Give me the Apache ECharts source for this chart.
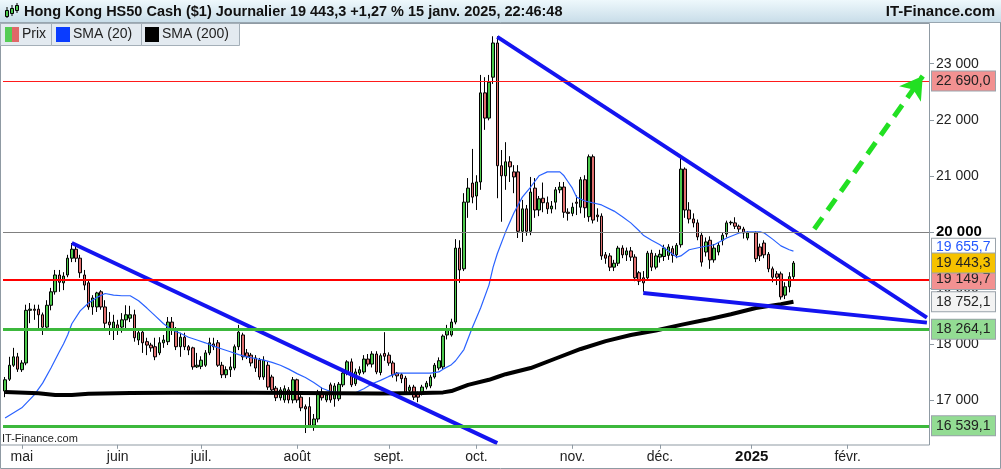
<!DOCTYPE html>
<html>
<head>
<meta charset="utf-8">
<script src="https://cdn.jsdelivr.net/npm/echarts@6/dist/echarts.min.js"></script>
<style>
  html, body { margin: 0; padding: 0; background: #fff; }
  #chart { width: 1001px; height: 469px; }
</style>
</head>
<body>
<div id="chart"></div>
<script>
  // trading days (weekdays) starting 25 avr. 2024, 222 slots on the axis
  var firstDay = [2024, 3, 25];
  var slotCount = 222;
  var monthLabels = ['janv.', 'févr.', 'mars', 'avr.', 'mai', 'juin', 'juil.', 'août', 'sept.', 'oct.', 'nov.', 'déc.'];
  var yTickValues = [17000, 18000, 19000, 20000, 21000, 22000, 23000];

  // [open, close, low, high] per day
  var ohlc = [
    [17160,17360,17050,17410],[17370,17620,17340,17770],[17620,17770,17590,17930],[17770,17550,17500,17840],
    [17540,17660,17500,17710],[17660,18600,17620,18700],[18600,18620,18370,18730],[18620,18600,18430,18700],
    [18620,18520,18280,18700],[18520,18300,18160,18560],[18300,18690,18250,18780],[18690,18930,18600,19000],
    [18930,19230,18880,19320],[19230,19100,18930,19320],[19090,19210,18960,19280],[19230,19530,19190,19590],
    [19530,19690,19460,19800],[19690,19530,19460,19770],[19530,19270,19180,19590],[19230,19050,18960,19320],
    [19090,18660,18610,19140],[18660,18820,18520,18870],[18660,18910,18570,18930],[18930,18660,18610,18960],
    [18660,18370,18280,18780],[18390,18340,18160,18570],[18280,18390,18070,18520],[18340,18250,18160,18430],
    [18300,18430,18200,18550],[18430,18520,18250,18690],[18460,18520,18390,18680],[18520,18110,18040,18610],
    [18070,18200,17980,18250],[18210,18020,17840,18250],[18040,17980,17800,18110],[17980,17930,17860,18020],
    [17950,17770,17710,18110],[17840,18020,17800,18120],[18020,18070,17930,18160],[18040,18390,17980,18480],
    [18390,18250,18160,18480],[18250,17950,17890,18300],[17950,18120,17770,18200],[18120,17950,17890,18200],
    [17950,17890,17800,17980],[17930,17590,17540,17950],[17590,17620,17570,17840],[17600,17710,17550,17780],
    [17620,17840,17590,17890],[17840,18020,17800,18110],[18000,17950,17890,18110],[18020,17620,17590,18070],
    [17620,17450,17390,17680],[17450,17540,17390,17600],[17540,17590,17410,17770],[17570,17950,17530,17990],
    [17950,18210,17890,18340],[18160,17770,17710,18200],[17840,17770,17730,17910],[17800,17660,17600,17840],
    [17750,17570,17500,17800],[17710,17410,17360,17750],[17410,17710,17360,17780],[17620,17230,17180,17680],
    [17410,17180,17110,17450],[17210,17040,16980,17250],[17040,17180,16990,17230],[17000,17200,16950,17260],
    [17180,17000,16940,17230],[17000,17360,16940,17410],[17360,17000,16950,17380],[17050,16860,16800,17090],
    [16880,16840,16410,16920],[16880,16550,16500,17050],[16550,16660,16450,16750],[16660,17140,16600,17180],
    [17140,17040,16990,17230],[17000,17090,16960,17140],[17270,17000,16950,17310],[17020,17250,16880,17300],
    [17020,17280,16980,17320],[17270,17480,17230,17520],[17480,17680,17440,17710],[17680,17270,17230,17740],
    [17290,17500,17250,17560],[17480,17540,17440,17600],[17500,17730,17460,17800],[17730,17640,17600,17820],
    [17640,17820,17580,17870],[17820,17500,17460,17870],[17490,17790,17440,17830],[17830,17780,17700,18210],
    [17800,17660,17610,17850],[17660,17450,17400,17700],[17480,17430,17330,17500],[17450,17380,17300,17480],
    [17390,17140,17090,17430],[17170,17230,17120,17270],[17230,17050,17000,17270],[17120,17050,16960,17150],
    [17140,17230,17080,17270],[17230,17300,17190,17340],[17250,17410,17210,17450],[17410,17620,17380,17660],
    [17570,17700,17530,17760],[17590,18140,17540,18170],[18160,18250,18080,18340],[18160,18390,18130,18450],
    [18390,19710,18350,19870],[19710,19320,19090,19850],[19340,20530,19300,20690],[20530,20780,20250,20960],
    [20870,20620,20510,21480],[20640,20890,20390,21010],[20890,22480,20750,22800],[22480,22030,21820,22760],
    [22030,22670,21990,22800],[22760,23370,22640,23490],[23370,21180,20600,23490],[21180,21000,20180,21460],
    [21000,21250,20750,21600],[21250,21160,20890,21350],[21070,20980,20690,21190],[21070,20010,19890,21190],
    [20010,20410,19820,20570],[20410,20010,19930,20480],[20010,20710,19940,20980],[20780,20390,20250,20960],
    [20390,20590,20280,20640],[20600,20520,20350,20880],[20520,20410,20320,20630],[20410,20460,20330,20550],
    [20530,20750,20400,20800],[20750,20800,20690,20890],[20800,20350,20250,20890],[20350,20330,20200,20420],
    [20330,20440,20280,20520],[20530,20510,20300,20650],[20440,20930,20330,20980],[20930,20430,20250,21010],
    [20270,21340,20180,21380],[21340,20210,20150,21380],[20300,20270,20180,20420],[20280,19570,19500,20330],
    [19590,19530,19430,19640],[19570,19370,19300,19620],[19370,19440,19300,19500],[19440,19710,19390,19750],
    [19710,19590,19530,19760],[19590,19660,19480,19720],[19660,19550,19480,19730],[19550,19180,19120,19600],
    [19270,19120,19050,19300],[19180,19090,18930,19300],[19180,19620,19140,19660],[19620,19370,19300,19680],
    [19370,19570,19330,19620],[19550,19600,19450,19680],[19560,19710,19480,19770],[19580,19730,19500,19780],
    [19700,19580,19450,19750],[19590,19760,19530,19800],[19770,21120,19720,21340],[21120,20390,20250,21150],
    [20390,20230,20150,20530],[20230,20160,20080,20330],[20160,19910,19850,20220],[19940,19460,19380,20000],
    [19640,19820,19560,19900],[19850,19500,19340,19920],[19500,19710,19450,19780],[19640,19760,19580,19810],
    [19850,19940,19760,19980],[19960,20160,19900,20200],[20160,20170,20120,20200],[20160,20100,20050,20260],
    [20100,20050,19990,20130],[20050,19980,19880,20090],[19890,19980,19850,20010],['-','-','-','-'],
    [19980,19520,19460,20010],[19730,19570,19480,19790],[19800,19590,19530,19850],[19600,19340,19280,19640],
    [19340,19190,19100,19380],[19250,19190,19050,19300],[19250,18840,18790,19290],[18870,19020,18800,19100],
    [19020,19200,18920,19280],[19200,19443.3,19150,19480]
  ];

  // moving averages as [day index, value]
  var sma20 = [
    [0,16680],[4,16860],[7,17090],[9,17300],[11,17570],[13,17860],[14,18000],[15,18160],[16,18360],
    [18,18590],[20,18730],[22,18830],[24,18900],[26,18870],[28,18860],[30,18860],[32,18770],[34,18640],
    [36,18500],[38,18360],[40,18250],[42,18190],[44,18120],[46,18070],[48,18020],[50,17960],[52,17910],
    [54,17860],[56,17810],[58,17770],[60,17740],[62,17710],[64,17670],[66,17620],[68,17550],[70,17470],
    [72,17400],[74,17310],[76,17210],[78,17150],[80,17130],[82,17120],[84,17130],[86,17200],[88,17290],
    [90,17350],[92,17420],[94,17480],[96,17480],[98,17480],[100,17480],[102,17480],[104,17500],[105,17550],
    [107,17630],[108,17700],[110,17900],[112,18290],[114,18640],[116,19050],[117,19370],[118,19610],
    [120,20000],[122,20340],[124,20620],[126,20800],[128,21000],[130,21070],[133,21070],[134,21000],
    [135,20890],[136,20780],[137,20620],[139,20550],[143,20480],[146,20370],[148,20270],[150,20160],
    [152,20020],[153,19940],[155,19850],[157,19770],[159,19660],[161,19550],[162,19570],[164,19680],
    [167,19730],[170,19770],[173,19890],[176,19980],[178,20000],[181,20000],[182,19980],[184,19870],
    [186,19750],[188,19680],[189,19655.7]
  ];
  var sma200 = [
    [0,17140],[8,17120],[12,17090],[16,17090],[20,17110],[30,17125],[50,17135],[70,17125],[90,17115],
    [100,17125],[105,17135],[107,17160],[111,17270],[116,17360],[118,17410],[120,17460],[126,17570],
    [132,17740],[138,17910],[144,18050],[150,18160],[156,18240],[162,18340],[168,18430],[174,18530],
    [180,18640],[186,18710],[189,18752.1]
  ];

  // drawn lines, [day index, value] ends
  var trendLines = [
    [[16, 19800], [118, 16230]],
    [[118, 23480], [221, 18470]],
    [[153, 18910], [221, 18380]]
  ];
  var arrowLine = [[194, 20050], [220, 22780]];
  var resistanceLevels = [22690.0, 19149.7];
  var supportLevels = [18264.1, 16539.1];
  var roundLevel = 20000;

  var FONT = '"Liberation Sans", Arial, sans-serif';

  var dates = [];
  var d = new Date(Date.UTC(firstDay[0], firstDay[1], firstDay[2]));
  while (dates.length < slotCount) {
    var wd = d.getUTCDay();
    if (wd !== 0 && wd !== 6) dates.push(d.toISOString().slice(0, 10));
    d.setUTCDate(d.getUTCDate() + 1);
  }
  function isMonthStart(i) {
    return i > 0 && dates[i].slice(5, 7) !== dates[i - 1].slice(5, 7);
  }
  function spaced(n) {
    return String(n).replace(/\B(?=(\d{3})+(?!\d))/g, ' ');
  }
  function fmt(v) {
    var p = v.toFixed(1).split('.');
    return spaced(p[0]) + ',' + p[1];
  }
  function boxLabel(text, bg, fg) {
    return {
      show: true, position: 'end', distance: 3, formatter: text,
      color: fg, fontSize: 14, fontFamily: FONT,
      backgroundColor: bg, borderColor: '#9aa3ab', borderWidth: 1,
      padding: [1, 3, 1, 4], lineHeight: 17, width: 56
    };
  }

  var lastClose = ohlc[ohlc.length - 1][1];
  var lastSma20 = sma20[sma20.length - 1][1];
  var lastSma200 = sma200[sma200.length - 1][1];

  var markData = [];
  // trend lines
  trendLines.forEach(function (t) {
    markData.push([
      { coord: t[0], lineStyle: { color: '#1414f0', width: 4, type: 'solid' } },
      { coord: t[1] }
    ]);
  });
  // horizontal levels
  markData.push({ yAxis: roundLevel, lineStyle: { color: '#808080', width: 1, type: 'solid' }, label: { show: false } });
  markData.push({ yAxis: resistanceLevels[0], lineStyle: { color: '#ff1a1a', width: 1, type: 'solid' },
    label: boxLabel(fmt(resistanceLevels[0]), '#f29191', '#222') });
  markData.push({ yAxis: resistanceLevels[1], lineStyle: { color: '#ff0000', width: 2, type: 'solid' },
    label: boxLabel(fmt(resistanceLevels[1]), '#f29191', '#222') });
  supportLevels.forEach(function (v) {
    markData.push({ yAxis: v, lineStyle: { color: '#3cb83c', width: 3, type: 'solid' },
      label: boxLabel(fmt(v), '#93dc93', '#222') });
  });
  // last values on the right scale; the SMA 20 box is pushed up by a spacer line
  var smaBox = boxLabel('{a|' + fmt(lastSma20) + '}\n{s| }', '#ffffff', '#2458ff');
  smaBox.padding = [0, 3, 0, 4];
  smaBox.rich = {
    a: { color: '#2458ff', fontSize: 14, fontFamily: FONT, lineHeight: 16, width: 56 },
    s: { fontSize: 6, lineHeight: 9 }
  };
  markData.push({ yAxis: lastSma20, lineStyle: { color: 'rgba(0,0,0,0)', width: 1 }, label: smaBox });
  markData.push({ yAxis: lastClose, lineStyle: { color: 'rgba(0,0,0,0)', width: 1 },
    label: boxLabel(fmt(lastClose), '#f6c200', '#222') });
  markData.push({ yAxis: lastSma200, lineStyle: { color: 'rgba(0,0,0,0)', width: 1 },
    label: boxLabel(fmt(lastSma200), '#f3f3f3', '#222') });
  // projected move
  markData.push([
    { coord: arrowLine[0], symbol: 'none', lineStyle: { color: '#22e022', width: 5, type: [14, 9] } },
    { coord: arrowLine[1], symbol: 'arrow', symbolSize: [20, 22] }
  ]);

  var chart = echarts.init(document.getElementById('chart'));
  chart.setOption({
    animation: false,
    backgroundColor: '#ffffff',
    textStyle: { fontFamily: FONT },
    grid: { left: 3, right: 72, top: 24.5, bottom: 24.2, containLabel: false },
    xAxis: {
      type: 'category',
      data: dates,
      boundaryGap: true,
      axisLine: { show: false },
      axisTick: {
        show: true, alignWithLabel: true, length: 4,
        interval: function (i) { return isMonthStart(i); },
        lineStyle: { color: '#8f9aa3' }
      },
      axisLabel: {
        interval: function (i) { return isMonthStart(i); },
        margin: 5, color: '#222', fontSize: 14, fontFamily: FONT,
        formatter: function (v) {
          var m = +v.slice(5, 7);
          return m === 1 ? '{y|' + v.slice(0, 4) + '}' : monthLabels[m - 1];
        },
        rich: { y: { fontWeight: 'bold', fontSize: 15, color: '#111', fontFamily: FONT } }
      },
      splitLine: { show: false }
    },
    yAxis: {
      type: 'value',
      position: 'right',
      min: 16200,
      max: 23700,
      axisLine: { show: false },
      splitLine: { show: false },
      axisTick: { show: true, length: 5, customValues: yTickValues, lineStyle: { color: '#8f9aa3' } },
      axisLabel: {
        customValues: yTickValues,
        margin: 7, color: '#222', fontSize: 14, fontFamily: FONT,
        formatter: function (v) {
          return v === roundLevel ? '{b|' + spaced(v) + '}' : spaced(v);
        },
        rich: { b: { fontWeight: 'bold', fontSize: 15, color: '#000', fontFamily: FONT } }
      }
    },
    series: [
      {
        name: 'Prix',
        type: 'candlestick',
        data: ohlc,
        barWidth: 3,
        z: 2,
        itemStyle: {
          color: '#4cc94c', color0: '#e06f6f',
          borderColor: '#000', borderColor0: '#000', borderWidth: 1
        }
      },
      {
        name: 'SMA (20)',
        type: 'line',
        data: sma20,
        z: 3,
        symbol: 'none',
        lineStyle: { color: '#2a62ff', width: 1.2 }
      },
      {
        name: 'SMA (200)',
        type: 'line',
        data: sma200,
        z: 3,
        symbol: 'none',
        lineStyle: { color: '#000', width: 4 }
      },
      {
        name: 'niveaux',
        type: 'line',
        data: [],
        z: 5,
        markLine: {
          silent: true,
          symbol: 'none',
          animation: false,
          precision: 1,
          label: { show: false },
          data: markData
        }
      }
    ],
    graphic: [
      // title bar
      { type: 'rect', z: 100, shape: { x: 0, y: 0, width: 1001, height: 23 },
        style: { fill: new echarts.graphic.LinearGradient(0, 0, 0, 1, [
          { offset: 0, color: '#eef8fc' }, { offset: 1, color: '#c7dce8' }]) } },
      { type: 'line', z: 101, shape: { x1: 0, y1: 22.5, x2: 1001, y2: 22.5 }, style: { stroke: '#98a6b0', lineWidth: 1 } },
      { type: 'line', z: 101, shape: { x1: 7, y1: 7, x2: 7, y2: 18 }, style: { stroke: '#000', lineWidth: 1 } },
      { type: 'rect', z: 102, shape: { x: 5.5, y: 10.5, width: 3, height: 6 }, style: { fill: '#4cc94c', stroke: '#000', lineWidth: 1 } },
      { type: 'line', z: 101, shape: { x1: 12, y1: 5, x2: 12, y2: 16 }, style: { stroke: '#000', lineWidth: 1 } },
      { type: 'rect', z: 102, shape: { x: 10.5, y: 8.5, width: 3, height: 5 }, style: { fill: '#4cc94c', stroke: '#000', lineWidth: 1 } },
      { type: 'line', z: 101, shape: { x1: 17, y1: 3, x2: 17, y2: 13 }, style: { stroke: '#000', lineWidth: 1 } },
      { type: 'rect', z: 102, shape: { x: 15.5, y: 5.5, width: 3, height: 5 }, style: { fill: '#4cc94c', stroke: '#000', lineWidth: 1 } },
      { type: 'text', z: 102, left: 24, top: 4,
        style: { text: 'Hong Kong HS50 Cash ($1) Journalier 19 443,3 +1,27 % 15 janv. 2025, 22:46:48',
          font: 'bold 14.5px ' + FONT, fill: '#111' } },
      { type: 'text', z: 102, right: 6, top: 4,
        style: { text: 'IT-Finance.com', font: 'bold 15px ' + FONT, fill: '#111' } },
      // legend boxes
      { type: 'rect', z: 100, shape: { x: 0.5, y: 23.5, width: 51, height: 22 }, style: { fill: '#e3eaf0', stroke: '#a4afb8' } },
      { type: 'rect', z: 100, shape: { x: 51.5, y: 23.5, width: 90, height: 22 }, style: { fill: '#e3eaf0', stroke: '#a4afb8' } },
      { type: 'rect', z: 100, shape: { x: 141.5, y: 23.5, width: 98, height: 22 }, style: { fill: '#e3eaf0', stroke: '#a4afb8' } },
      { type: 'rect', z: 101, shape: { x: 5, y: 27, width: 7, height: 15 }, style: { fill: '#55cc55' } },
      { type: 'rect', z: 101, shape: { x: 12, y: 27, width: 7, height: 15 }, style: { fill: '#e06868' } },
      { type: 'text', z: 101, left: 22, top: 27, style: { text: 'Prix', font: '14px ' + FONT, fill: '#222' } },
      { type: 'rect', z: 101, shape: { x: 56, y: 27, width: 14, height: 15 }, style: { fill: '#0a3cff' } },
      { type: 'text', z: 101, left: 73, top: 27, style: { text: 'SMA (20)', font: '14px ' + FONT, fill: '#222' } },
      { type: 'rect', z: 101, shape: { x: 145, y: 27, width: 14, height: 15 }, style: { fill: '#000' } },
      { type: 'text', z: 101, left: 162, top: 27, style: { text: 'SMA (200)', font: '14px ' + FONT, fill: '#222' } },
      // watermark
      { type: 'text', z: 50, left: 2, top: 433, style: { text: 'IT-Finance.com', font: '11px ' + FONT, fill: '#222' } },
      // frames
      { type: 'rect', z: 60, shape: { x: 0.5, y: 23.5, width: 929, height: 421.5 }, style: { fill: 'none', stroke: '#8f9aa3', lineWidth: 1 } },
      { type: 'rect', z: 60, shape: { x: 0.5, y: 0.5, width: 1000, height: 468 }, style: { fill: 'none', stroke: '#8f9aa3', lineWidth: 1 } }
    ]
  });
</script>
</body>
</html>
